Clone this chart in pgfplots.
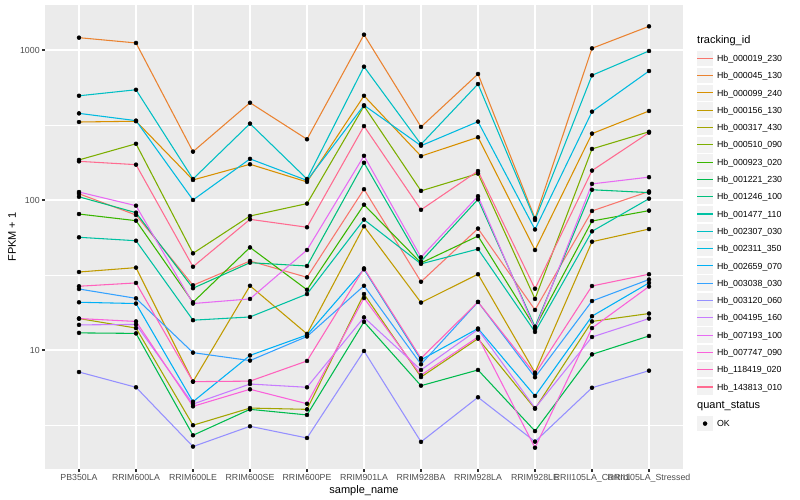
\documentclass[border=0pt]{standalone}
\usepackage{fontspec}
\setmainfont{Liberation Sans}
\usepackage{pgfplots}
\usepackage{pgfplotstable}
\pgfplotsset{compat=1.18}

\definecolor{panelbg}{HTML}{EBEBEB}
\definecolor{keybg}{HTML}{F2F2F2}
\definecolor{tickcol}{HTML}{333333}
\definecolor{labelcol}{HTML}{4D4D4D}
% ggplot hue palette, 20 levels
\definecolor{c019}{HTML}{F8766D}
\definecolor{c045}{HTML}{EA8331}
\definecolor{c099}{HTML}{D89000}
\definecolor{c156}{HTML}{C09B00}
\definecolor{c317}{HTML}{A3A500}
\definecolor{c510}{HTML}{7CAE00}
\definecolor{c923}{HTML}{39B600}
\definecolor{c1221}{HTML}{00BB4E}
\definecolor{c1246}{HTML}{00BF7D}
\definecolor{c1477}{HTML}{00C1A3}
\definecolor{c2307}{HTML}{00BFC4}
\definecolor{c2311}{HTML}{00BAE0}
\definecolor{c2659}{HTML}{00B0F6}
\definecolor{c3038}{HTML}{35A2FF}
\definecolor{c3120}{HTML}{9590FF}
\definecolor{c4195}{HTML}{C77CFF}
\definecolor{c7193}{HTML}{E76BF3}
\definecolor{c7747}{HTML}{FA62DB}
\definecolor{c118419}{HTML}{FF62BC}
\definecolor{c143813}{HTML}{FF6C91}

% FPKM + 1, one row per sample (0 = PB350LA ... 10 = RRII105LA_Stressed)
\pgfplotstableread{
x  s019  s045  s099  s156  s317  s510  s923  s1221 s1246 s1477 s2307 s2311 s2659 s3038 s3120 s4195 s7193 s7747 s118419 s143813
0  110   1208  331   33.1  16.2  185   80.6  13.0  105   56.4  495   378   20.8  25.5  7.13  14.7  113   16.2  26.6    181
1  79.4  1114  335   35.4  14.0  237   72.8  12.9  82.3  53.5  543   338   20.4  22.1  5.64  14.8  91.6  15.5  28      172
2  27.0  210   136   6.15  3.15  44.1  20.8  2.7   25.8  15.8  138   100   4.52  9.6   2.27  4.36  20.4  4.21  6.15    35.9
3  39.2  445   173   26.8  4.1   78.2  48.3  4.02  38.2  16.6  323   188   9.2   8.5   3.1   5.93  21.9  5.47  6.2     74.3
4  30.5  254   132   12.8  4.02  94.6  25.2  3.69  36.3  23.6  138   135   12.6  12.3  2.59  5.64  46.4  4.38  8.45    65.8
5  118   1265  495   66.8  23.6  423   93    15.4  177   74    774   428   34.5  26.8  9.85  16.5  197   22.2  35      311
6  28.5  307   196   20.7  6.6   115   38    5.78  39    37.5  235   230   8.6   8.03  2.44  7.36  41.5  6.8   8.8     86
7  64.5  692   262   32    11.9  150   57.5  7.36  101   47.1  593   333   13.9  20.9  4.84  13.7  106   12.2  20.9    156
8  18.5  75.5  46.4  7.06  4.06  21.9  14.1  2.88  14.3  13.2  73.6  63.6  4.94  6.58  2.45  4.1   13.8  2.23  6.92    25.6
9  84.5  1026  277   52.7  15.5  219   72.4  9.35  117   61.8  678   388   16.8  21.2  5.6   12.2  128   14    26.7    157
10 114   1438  392   64    17.5  285   84.9  12.4  112   102   985   724   28    29.5  7.28  16.2  142   26.5  32      281
}\fpkm

\pgfplotsset{
  keystyle/.style={
    legend style={draw=none, fill=none, inner sep=0pt, outer sep=0pt, row sep=0pt,
      anchor=north west, font=\fontsize{8.8}{10}\selectfont,
      nodes={inner sep=0pt, outer sep=0pt, anchor=west, text height=6.3pt, text depth=0pt},
      /tikz/every odd column/.append style={column sep=3.3pt}},
  },
}

\begin{document}
\begin{tikzpicture}
\useasboundingbox (-44.8pt,-31.2pt) rectangle (755.2pt,468.8pt);
\begin{axis}[
  scale only axis, width=638.4pt, height=463.5pt,
  at={(0pt,0pt)}, anchor=south west,
  xmin=-0.6, xmax=10.6,
  ymode=log, ymin=1.614, ymax=1986,
  axis background/.style={fill=panelbg},
  axis line style={draw=none},
  xtick={0,...,10},
  xticklabels={PB350LA,RRIM600LA,RRIM600LE,RRIM600SE,RRIM600PE,RRIM901LA,RRIM928BA,RRIM928LA,RRIM928LE,RRII105LA\_Control,RRII105LA\_Stressed},
  ytick={10,100,1000}, yticklabels={10,100,1000},
  minor ytick={3.1623,31.623,316.23},
  grid=both,
  major grid style={white, line width=1.07pt},
  minor grid style={white, line width=0.53pt},
  tick pos=left, tick align=outside,
  major tick length=2.75pt, minor tick length=0pt,
  tick style={color=tickcol, line width=1.07pt},
  ticklabel style={font=\fontsize{8.8}{10}\selectfont, text=labelcol},
  xticklabel style={anchor=north, inner sep=0pt, text height=6.3pt, text depth=0pt, yshift=-2.2pt},
  yticklabel style={anchor=east, inner sep=0pt, text height=6.3pt, text depth=0pt, xshift=-2.2pt},
  xlabel={sample\_name}, ylabel={FPKM + 1},
  label style={font=\fontsize{11}{13}\selectfont},
  xlabel style={at={(axis description cs:0.5,-0.0479)}, anchor=center},
  ylabel style={at={(axis description cs:-0.0514,0.5)}, anchor=center},
  keystyle,
  legend style={at={(1.0207,0.9043)}},
  legend image code/.code={
    \path[draw=none, fill=none] (0pt,-8.65pt) rectangle (17.3pt,8.65pt);
    \path[draw=none, fill=keybg] (0.9pt,-7.75pt) rectangle (16.4pt,7.75pt);
    \draw[#1] (0.9pt,0pt) -- (16.4pt,0pt);
  },
  every axis plot/.append style={line width=1.07pt},
]
\addplot[c019] table[x=x,y=s019]{\fpkm};
\addlegendentry{Hb\_000019\_230}
\addplot[c045] table[x=x,y=s045]{\fpkm};
\addlegendentry{Hb\_000045\_130}
\addplot[c099] table[x=x,y=s099]{\fpkm};
\addlegendentry{Hb\_000099\_240}
\addplot[c156] table[x=x,y=s156]{\fpkm};
\addlegendentry{Hb\_000156\_130}
\addplot[c317] table[x=x,y=s317]{\fpkm};
\addlegendentry{Hb\_000317\_430}
\addplot[c510] table[x=x,y=s510]{\fpkm};
\addlegendentry{Hb\_000510\_090}
\addplot[c923] table[x=x,y=s923]{\fpkm};
\addlegendentry{Hb\_000923\_020}
\addplot[c1221] table[x=x,y=s1221]{\fpkm};
\addlegendentry{Hb\_001221\_230}
\addplot[c1246] table[x=x,y=s1246]{\fpkm};
\addlegendentry{Hb\_001246\_100}
\addplot[c1477] table[x=x,y=s1477]{\fpkm};
\addlegendentry{Hb\_001477\_110}
\addplot[c2307] table[x=x,y=s2307]{\fpkm};
\addlegendentry{Hb\_002307\_030}
\addplot[c2311] table[x=x,y=s2311]{\fpkm};
\addlegendentry{Hb\_002311\_350}
\addplot[c2659] table[x=x,y=s2659]{\fpkm};
\addlegendentry{Hb\_002659\_070}
\addplot[c3038] table[x=x,y=s3038]{\fpkm};
\addlegendentry{Hb\_003038\_030}
\addplot[c3120] table[x=x,y=s3120]{\fpkm};
\addlegendentry{Hb\_003120\_060}
\addplot[c4195] table[x=x,y=s4195]{\fpkm};
\addlegendentry{Hb\_004195\_160}
\addplot[c7193] table[x=x,y=s7193]{\fpkm};
\addlegendentry{Hb\_007193\_100}
\addplot[c7747] table[x=x,y=s7747]{\fpkm};
\addlegendentry{Hb\_007747\_090}
\addplot[c118419] table[x=x,y=s118419]{\fpkm};
\addlegendentry{Hb\_118419\_020}
\addplot[c143813] table[x=x,y=s143813]{\fpkm};
\addlegendentry{Hb\_143813\_010}
% points on top of all lines
\pgfplotsinvokeforeach{s019,s045,s099,s156,s317,s510,s923,s1221,s1246,s1477,s2307,s2311,s2659,s3038,s3120,s4195,s7193,s7747,s118419,s143813}{
  \addplot[forget plot, only marks, mark=*, mark size=2pt, black, line width=0.4pt] table[x=x,y=#1]{\fpkm};
}
\end{axis}
% second legend (quant_status)
\begin{axis}[
  scale only axis, width=638.4pt, height=463.5pt,
  at={(0pt,0pt)}, anchor=south west,
  hide axis, xmin=0, xmax=1, ymin=0, ymax=1,
  keystyle,
  legend style={at={(1.0207,0.1162)}},
  legend image code/.code={
    \path[draw=none, fill=none] (0pt,-8.65pt) rectangle (17.3pt,8.65pt);
    \path[draw=none, fill=keybg] (0.9pt,-7.75pt) rectangle (16.4pt,7.75pt);
    \draw[#1] plot coordinates {(8.65pt,0pt)};
  },
]
\addlegendimage{only marks, mark=*, mark size=2pt, black}
\addlegendentry{OK}
\end{axis}
\node[anchor=west, inner sep=0pt, font=\fontsize{11}{13}\selectfont] at (652.2pt,428.1pt) {tracking\_id};
\node[anchor=west, inner sep=0pt, font=\fontsize{11}{13}\selectfont] at (652.2pt,62.8pt) {quant\_status};
\end{tikzpicture}
\end{document}
